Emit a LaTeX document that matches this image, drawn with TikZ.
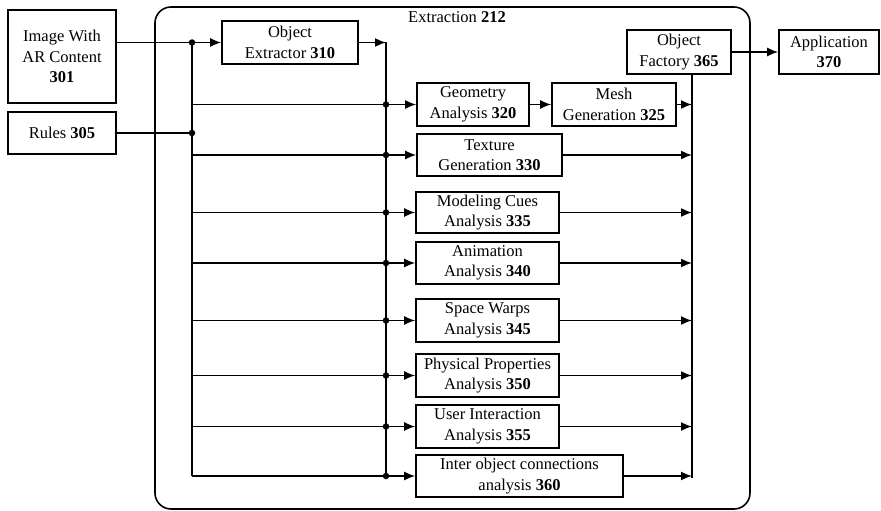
\documentclass[tikz,border=0pt]{standalone}
\usepackage{fontspec}
\setmainfont{Liberation Serif}
\usetikzlibrary{arrows.meta,calc}
\tikzset{
  blk/.style={draw, line width=1.6pt, inner sep=0pt, align=center, font=\fontsize{16.5}{20.5}\selectfont},
  conn/.style={line width=1.6pt},
  arr/.style={line width=1.6pt, -{Latex[length=11pt,width=9pt]}},
  dot/.style={circle, fill, inner sep=0pt, minimum size=6.5pt},
}
\newcommand{\bx}[6]{% name, x1,y1,x2,y2, text
  \node[blk, minimum width={#4-#2}, minimum height={#5-#3}] (#1) at ({(#2+#4)/2},{(#3+#5)/2}) {#6};}
\begin{document}
\begin{tikzpicture}[x=1pt,y=-1pt]
\useasboundingbox (0,0) rectangle (881,511);
% extraction frame
\node[draw, line width=1.6pt, rounded corners=16pt, minimum width=595pt, minimum height=502pt, inner sep=0pt] (ext) at (452.5,258) {};
\node[font=\fontsize{16.5}{20.5}\selectfont] (extlbl) at (457,17) {Extraction \textbf{212}};
% boxes
\bx{img}{8}{10}{116}{103}{Image With\\AR Content\\\textbf{301}}
\bx{rules}{8}{112}{116}{154}{Rules \textbf{305}}
\bx{oe}{222}{21}{358}{64}{Object\\Extractor \textbf{310}}
\bx{geo}{417}{83}{529}{126}{Geometry\\Analysis \textbf{320}}
\bx{mesh}{552}{83}{676}{126}{Mesh\\Generation \textbf{325}}
\bx{tex}{417}{134}{562}{176}{Texture\\Generation \textbf{330}}
\bx{mod}{416}{192}{559}{233}{Modeling Cues\\Analysis \textbf{335}}
\bx{anim}{416}{242}{559}{284}{Animation\\Analysis \textbf{340}}
\bx{space}{416}{299}{559}{342}{Space Warps\\Analysis \textbf{345}}
\bx{phys}{416}{354}{559}{397}{Physical Properties\\Analysis \textbf{350}}
\bx{user}{416}{405}{559}{448}{User Interaction\\Analysis \textbf{355}}
\bx{inter}{416}{455}{623}{497}{Inter object connections\\analysis \textbf{360}}
\bx{of}{627}{30}{731}{74}{Object\\Factory \textbf{365}}
\bx{app}{779}{30}{879}{74}{Application\\\textbf{370}}
% bus coordinates
\coordinate (b1) at (192,0);
\coordinate (b2) at (386,0);
\coordinate (b3) at (692,0);
% inputs
\draw[arr] (oe.west -| img.east) -- (oe.west);
\node[dot] (d1) at (oe.west -| b1) {};
\draw[conn] (rules.east) -- (rules.east -| b1);
\node[dot] (d2) at (rules.east -| b1) {};
\draw[conn] (oe.west -| b1) -- (inter.west -| b1);
% object extractor output bus
\draw[arr] (oe.east) -- (oe.east -| b2);
\draw[conn] (oe.east -| b2) -- (inter.west -| b2);
% rows
\foreach \r in {geo,tex,mod,anim,space,phys,user,inter}{
  \draw[arr] (\r.west -| b1) -- (\r.west);
  \node[dot] at (\r.west -| b2) {};
}
% right side
\draw[arr] (geo) -- (mesh);
\foreach \r in {mesh,tex,mod,anim,space,phys,user,inter}{
  \draw[arr] (\r.east) -- (\r.east -| b3);
}
\draw[conn] (b3 |- of.south) -- ($(inter.east -| b3)+(0,2)$);
\draw[arr] (of) -- (app);
\end{tikzpicture}
\end{document}
